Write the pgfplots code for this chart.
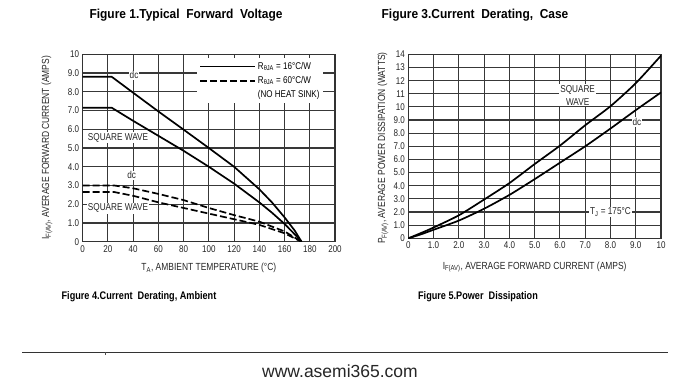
\documentclass[border=0pt]{standalone}
\usepackage{fontspec}
\setmainfont{Liberation Sans}
\newfontfamily\nf[FakeStretch=0.82]{Liberation Sans}
\newfontfamily\tfa[FakeStretch=0.92]{Liberation Sans}
\newfontfamily\tfb[FakeStretch=0.83]{Liberation Sans}
\usepackage{pgfplots}
\pgfplotsset{compat=1.18}
\pgfplotsset{
  mystyle/.style={scale only axis, anchor=south west, grid=major,
    major grid style={line width=1.1pt, black!78},
    axis line style={line width=1.1pt, black!80},
    tick style={draw=none}, major tick length=0pt,
    ticklabel style={font=\nf\fontsize{9.8}{11}\selectfont, text=black!85},
    label style={font=\nf\fontsize{10.3}{11}\selectfont, text=black!85},
    clip=true}
}
\tikzset{
  solidc/.style={black, line width=1.7pt},
  dashc/.style={black, line width=1.7pt, dash pattern=on 7pt off 3pt},
  lab/.style={font=\nf\fontsize{10}{11}\selectfont, fill=white, inner sep=1pt, text=black!85}
}
\begin{document}
\begin{tikzpicture}[x=1pt,y=1pt]
\fill[white] (0,0) rectangle (700,-391);
\node[font=\tfa\bfseries\fontsize{13}{15}\selectfont] at (186,-15) {Figure 1.Typical\ \ Forward\ \ Voltage};
\node[font=\tfa\bfseries\fontsize{13}{15}\selectfont] at (475,-15) {Figure 3.Current\ \ Derating,\ \ Case};
\node[font=\tfb\bfseries\fontsize{11}{13}\selectfont] at (139,-297) {Figure 4.Current\ \ Derating, Ambient};
\node[font=\tfb\bfseries\fontsize{11}{13}\selectfont] at (478,-297) {Figure 5.Power\ \ Dissipation};

\begin{axis}[mystyle, at={(82.7pt,-241.7pt)}, width=252.3pt, height=187.4pt,
  xmin=0, xmax=200, ymin=0, ymax=10,
  xtick={0,20,...,200}, ytick={0,1,...,10},
  xticklabels={0,20,40,60,80,100,120,140,160,180,200},
  yticklabels={0,1.0,2.0,3.0,4.0,5.0,6.0,7.0,8.0,9.0,10},
  xlabel={T\textsubscript{A}, AMBIENT TEMPERATURE (°C)},
  ylabel={I\textsubscript{F(AV)}, AVERAGE FORWARD CURRENT (AMPS)},
  xlabel style={at={(axis description cs:0.5,-0.14)}, anchor=center},
  ylabel style={at={(axis description cs:-0.1415,0.5)}, anchor=center},
  legend style={at={(axis description cs:0.955,0.98)}, anchor=north east, draw=none, fill=white,
    font=\nf\fontsize{9.8}{11}\selectfont, inner xsep=2pt, inner ysep=2pt, row sep=1.5pt},
  legend cell align=left,
  legend image code/.code={\draw[#1] (0pt,0pt) -- (55pt,0pt);}]
\addplot[solidc] coordinates {(0,8.8) (23,8.8) (40,7.95) (60,6.95) (80,5.98) (100,5.0) (120,4.0) (140,2.8) (150,2.1) (160,1.3) (168,0.6) (173.5,0)};
\addlegendentry{R\textsubscript{θJA} = 16°C/W}
\addplot[solidc, forget plot] coordinates {(0,7.15) (23,7.15) (40,6.45) (60,5.65) (80,4.85) (100,4.0) (120,3.1) (140,2.1) (150,1.55) (160,0.95) (168,0.4) (173.5,0)};
\addplot[dashc] coordinates {(0,3.0) (25,3.0) (40,2.85) (60,2.55) (80,2.22) (100,1.8) (120,1.42) (140,1.07) (160,0.55) (173.5,0)};
\addlegendentry{R\textsubscript{θJA} = 60°C/W}
\addplot[dashc, forget plot] coordinates {(0,2.65) (25,2.65) (40,2.45) (60,2.1) (80,1.8) (100,1.5) (120,1.2) (140,0.9) (160,0.45) (173.5,0)};
\addlegendimage{empty legend}
\addlegendentry{(NO HEAT SINK)}
\node[lab] at (axis cs:40.7,8.88) {dc};
\node[lab] at (axis cs:28,5.56) {SQUARE WAVE};
\node[lab] at (axis cs:38.8,3.55) {dc};
\node[lab] at (axis cs:28,1.78) {SQUARE WAVE};
\end{axis}

\begin{axis}[mystyle, at={(408.3pt,-238.3pt)}, width=252.7pt, height=184pt,
  xmin=0, xmax=10, ymin=0, ymax=14,
  xtick={0,1,...,10}, ytick={0,1,...,14},
  xticklabels={0,1.0,2.0,3.0,4.0,5.0,6.0,7.0,8.0,9.0,10},
  yticklabels={0,1.0,2.0,3.0,4.0,5.0,6.0,7.0,8.0,9.0,10,11,12,13,14},
  xlabel={I\textsubscript{F(AV)}, AVERAGE FORWARD CURRENT (AMPS)},
  ylabel={P\textsubscript{F(AV)}, AVERAGE POWER DISSIPATION (WATTS)},
  xlabel style={at={(axis description cs:0.5,-0.156)}, anchor=center},
  ylabel style={at={(axis description cs:-0.1,0.49)}, anchor=center}]
\addplot[solidc, smooth, tension=0.4] coordinates {(0,0) (0.5,0.4) (1,0.82) (2,1.75) (3,2.95) (4,4.2) (5,5.65) (6,7.05) (7,8.6) (8,10.05) (9,11.8) (10,13.9)};
\addplot[solidc, smooth, tension=0.4] coordinates {(0,0) (0.5,0.3) (1,0.65) (2,1.35) (3,2.25) (4,3.3) (5,4.5) (6,5.75) (7,7.0) (8,8.35) (9,9.75) (10,11.1)};
\node[lab, align=center, font=\nf\fontsize{10}{13}\selectfont] at (axis cs:6.7,10.9) {SQUARE\\WAVE};
\node[lab] at (axis cs:9.05,8.85) {dc};
\node[lab] at (axis cs:8.0,2.0) {T\textsubscript{J} = 175°C};
\end{axis}

\draw[line width=0.8pt, black!80] (22,-352) -- (668,-352);
\draw[line width=0.6pt, black!70] (105,-352) -- (105,-355);
\node[font=\fontsize{17.5}{19}\selectfont, text=black!85] at (340,-371) {www.asemi365.com};
\end{tikzpicture}
\end{document}
